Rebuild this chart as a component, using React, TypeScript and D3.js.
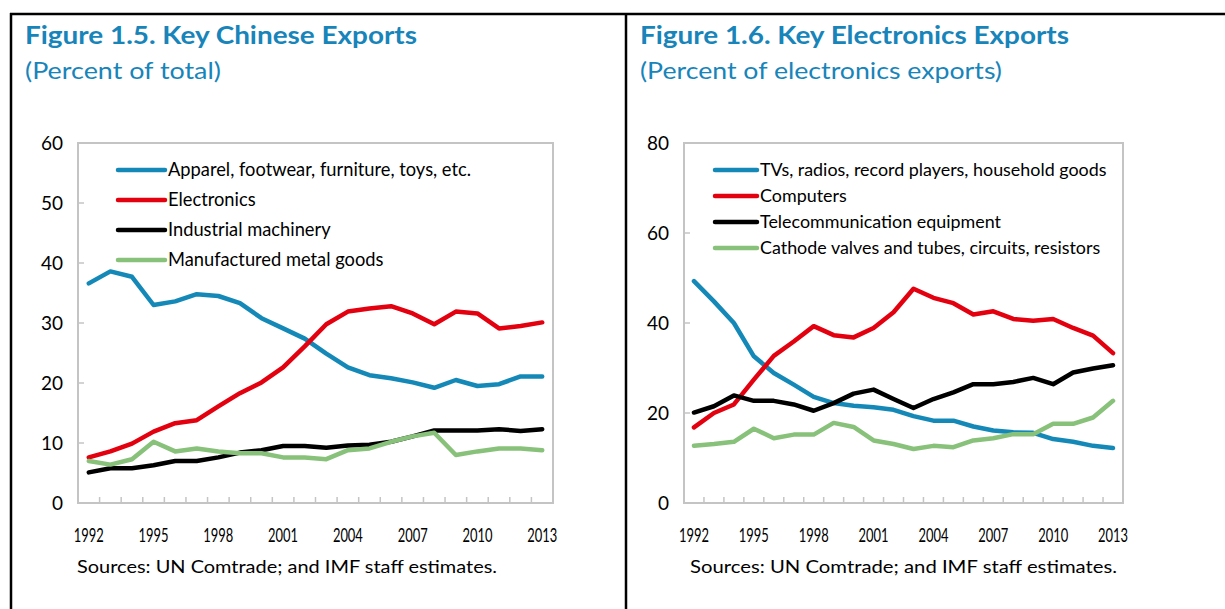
import React from "react";
import * as d3 from "d3";

const years = d3.range(1992, 2014).map(String);
const yearLabels = ["1992", "1995", "1998", "2001", "2004", "2007", "2010", "2013"];

// Figure 1.5
const apparel = [36.6, 38.6, 37.7, 33.0, 33.6, 34.8, 34.5, 33.3, 30.8, 29.1, 27.4, 24.9, 22.6, 21.3, 20.8, 20.1, 19.2, 20.5, 19.5, 19.8, 21.1, 21.1];
const electronics = [7.6, 8.6, 9.9, 11.9, 13.3, 13.8, 16.1, 18.3, 20.1, 22.6, 26.1, 29.8, 31.9, 32.4, 32.8, 31.6, 29.8, 31.9, 31.6, 29.1, 29.5, 30.1];
const machinery = [5.1, 5.8, 5.8, 6.3, 7.0, 7.0, 7.6, 8.4, 8.8, 9.5, 9.5, 9.2, 9.6, 9.7, 10.2, 11.1, 12.1, 12.1, 12.1, 12.3, 12.0, 12.3];
const metalGoods = [7.0, 6.4, 7.3, 10.2, 8.6, 9.1, 8.6, 8.3, 8.3, 7.6, 7.6, 7.3, 8.8, 9.1, 10.2, 11.1, 11.7, 8.0, 8.6, 9.1, 9.1, 8.8];
const leftTicks = [0, 10, 20, 30, 40, 50, 60];

// Figure 1.6
const tvs = [49.3, 44.8, 40.0, 32.6, 28.9, 26.3, 23.6, 22.2, 21.6, 21.3, 20.7, 19.3, 18.3, 18.3, 17.0, 16.1, 15.7, 15.6, 14.2, 13.6, 12.7, 12.2];
const computers = [16.8, 20.0, 21.9, 27.4, 32.7, 35.9, 39.3, 37.3, 36.8, 38.9, 42.4, 47.6, 45.6, 44.4, 41.9, 42.6, 40.9, 40.5, 40.9, 38.9, 37.2, 33.3];
const telecom = [20.1, 21.5, 23.9, 22.7, 22.7, 21.9, 20.5, 22.2, 24.3, 25.2, 23.1, 21.1, 23.1, 24.6, 26.4, 26.4, 26.9, 27.8, 26.4, 29.0, 29.9, 30.6];
const cathode = [12.7, 13.1, 13.6, 16.5, 14.4, 15.2, 15.2, 17.8, 16.9, 13.9, 13.1, 12.0, 12.7, 12.4, 13.9, 14.4, 15.3, 15.3, 17.6, 17.6, 19.0, 22.7];
const rightTicks = [0, 20, 40, 60, 80];

const BLUE = "#1489b8";
const RED = "#e3000f";
const BLACK = "#000000";
const GREEN = "#88c17a";
const TITLE = "#1784ba";
const FONT = "Lato, 'Open Sans', sans-serif";

type Series = { name: string; values: number[]; color: string };

const leftSeries: Series[] = [
  { name: "Apparel, footwear, furniture, toys, etc.", values: apparel, color: BLUE },
  { name: "Electronics", values: electronics, color: RED },
  { name: "Industrial machinery", values: machinery, color: BLACK },
  { name: "Manufactured metal goods", values: metalGoods, color: GREEN },
];
const rightSeries: Series[] = [
  { name: "TVs, radios, record players, household goods", values: tvs, color: BLUE },
  { name: "Computers", values: computers, color: RED },
  { name: "Telecommunication equipment", values: telecom, color: BLACK },
  { name: "Cathode valves and tubes, circuits, resistors", values: cathode, color: GREEN },
];

type PanelProps = {
  title: string;
  titleWidth: number;
  subtitle: string;
  subtitleWidth: number;
  titleX: number;
  x0: number;
  x1: number;
  yTop: number;
  yBot: number;
  yMax: number;
  ticks: number[];
  series: Series[];
  legendX0: number;
  legendX1: number;
  legendY0: number;
  legendStep: number;
  legendFont: number;
  sourceX: number;
  sourceWidth: number;
};

function Panel(p: PanelProps) {
  const x = d3.scaleBand<string>().domain(years).range([p.x0, p.x1]).paddingInner(0).paddingOuter(0);
  const y = d3.scaleLinear().domain([0, p.yMax]).range([p.yBot, p.yTop]);
  const line = d3
    .line<number>()
    .x((_, i) => (x(years[i]) as number) + x.bandwidth() / 2)
    .y((v) => y(v));
  const frame = "#c4c4c4";
  return (
    <g>
      <text x={p.titleX} y={44} fill={TITLE} fontFamily={FONT} fontWeight={700} fontSize={24} textLength={p.titleWidth} lengthAdjust="spacingAndGlyphs">
        {p.title}
      </text>
      <text x={p.titleX} y={79} fill={TITLE} fontFamily={FONT} fontSize={24} textLength={p.subtitleWidth} lengthAdjust="spacingAndGlyphs">
        {p.subtitle}
      </text>
      <rect x={p.x0} y={p.yTop} width={p.x1 - p.x0} height={p.yBot - p.yTop} fill="none" stroke={frame} strokeWidth={2} />
      {p.ticks.map((t) => (
        <g key={"y" + t}>
          <line x1={p.x0} x2={p.x0 + 6} y1={y(t)} y2={y(t)} stroke={frame} strokeWidth={1.5} />
          <text x={p.x0 - 15} y={y(t) + 7} textAnchor="end" fontFamily={FONT} fontSize={19} fill="#000">
            {t}
          </text>
        </g>
      ))}
      {years.slice(1).map((yr) => (
        <line key={"xt" + yr} x1={x(yr)} x2={x(yr)} y1={p.yBot} y2={p.yBot - 6} stroke={frame} strokeWidth={1.5} />
      ))}
      {yearLabels.map((yr) => (
        <text key={"xl" + yr} x={(x(yr) as number) + x.bandwidth() / 2} y={542} textAnchor="middle" fontFamily={FONT} fontSize={19} fill="#000" textLength={30} lengthAdjust="spacingAndGlyphs">
          {yr}
        </text>
      ))}
      {p.series.map((s) => (
        <path key={s.name} d={line(s.values) || ""} fill="none" stroke={s.color} strokeWidth={4.5} strokeLinejoin="round" strokeLinecap="round" />
      ))}
      {p.series.map((s, i) => (
        <g key={"lg" + s.name}>
          <line x1={p.legendX0} x2={p.legendX1} y1={p.legendY0 + i * p.legendStep} y2={p.legendY0 + i * p.legendStep} stroke={s.color} strokeWidth={4.5} strokeLinecap="round" />
          <text x={p.legendX1 + 3} y={p.legendY0 + i * p.legendStep + 6} fontFamily={FONT} fontSize={p.legendFont} fill="#000">
            {s.name}
          </text>
        </g>
      ))}
      <text x={p.sourceX} y={573} fontFamily={FONT} fontSize={18} fill="#000" textLength={p.sourceWidth} lengthAdjust="spacingAndGlyphs">
        Sources: UN Comtrade; and IMF staff estimates.
      </text>
    </g>
  );
}

export default function App() {
  return (
    <svg width={1225} height={609} style={{ position: "absolute", left: 0, top: 0, background: "#fff" }}>
      <rect x={0} y={0} width={1225} height={609} fill="#fff" />
      <line x1={10} x2={1225} y1={14} y2={14} stroke="#000" strokeWidth={2.5} />
      <line x1={11} x2={11} y1={13} y2={609} stroke="#000" strokeWidth={2.5} />
      <line x1={626} x2={626} y1={13} y2={609} stroke="#000" strokeWidth={2.5} />
      <Panel
        title="Figure 1.5. Key Chinese Exports"
        titleWidth={392}
        subtitle="(Percent of total)"
        subtitleWidth={196}
        titleX={25}
        x0={78}
        x1={553}
        yTop={143}
        yBot={503}
        yMax={60}
        ticks={leftTicks}
        series={leftSeries}
        legendX0={118}
        legendX1={165}
        legendY0={170}
        legendStep={30}
        legendFont={18.3}
        sourceX={77}
        sourceWidth={420}
      />
      <Panel
        title="Figure 1.6. Key Electronics Exports"
        titleWidth={429}
        subtitle="(Percent of electronics exports)"
        subtitleWidth={362}
        titleX={640}
        x0={684}
        x1={1123}
        yTop={143}
        yBot={503}
        yMax={80}
        ticks={rightTicks}
        series={rightSeries}
        legendX0={715}
        legendX1={757}
        legendY0={170}
        legendStep={26}
        legendFont={17.9}
        sourceX={690}
        sourceWidth={427}
      />
    </svg>
  );
}
